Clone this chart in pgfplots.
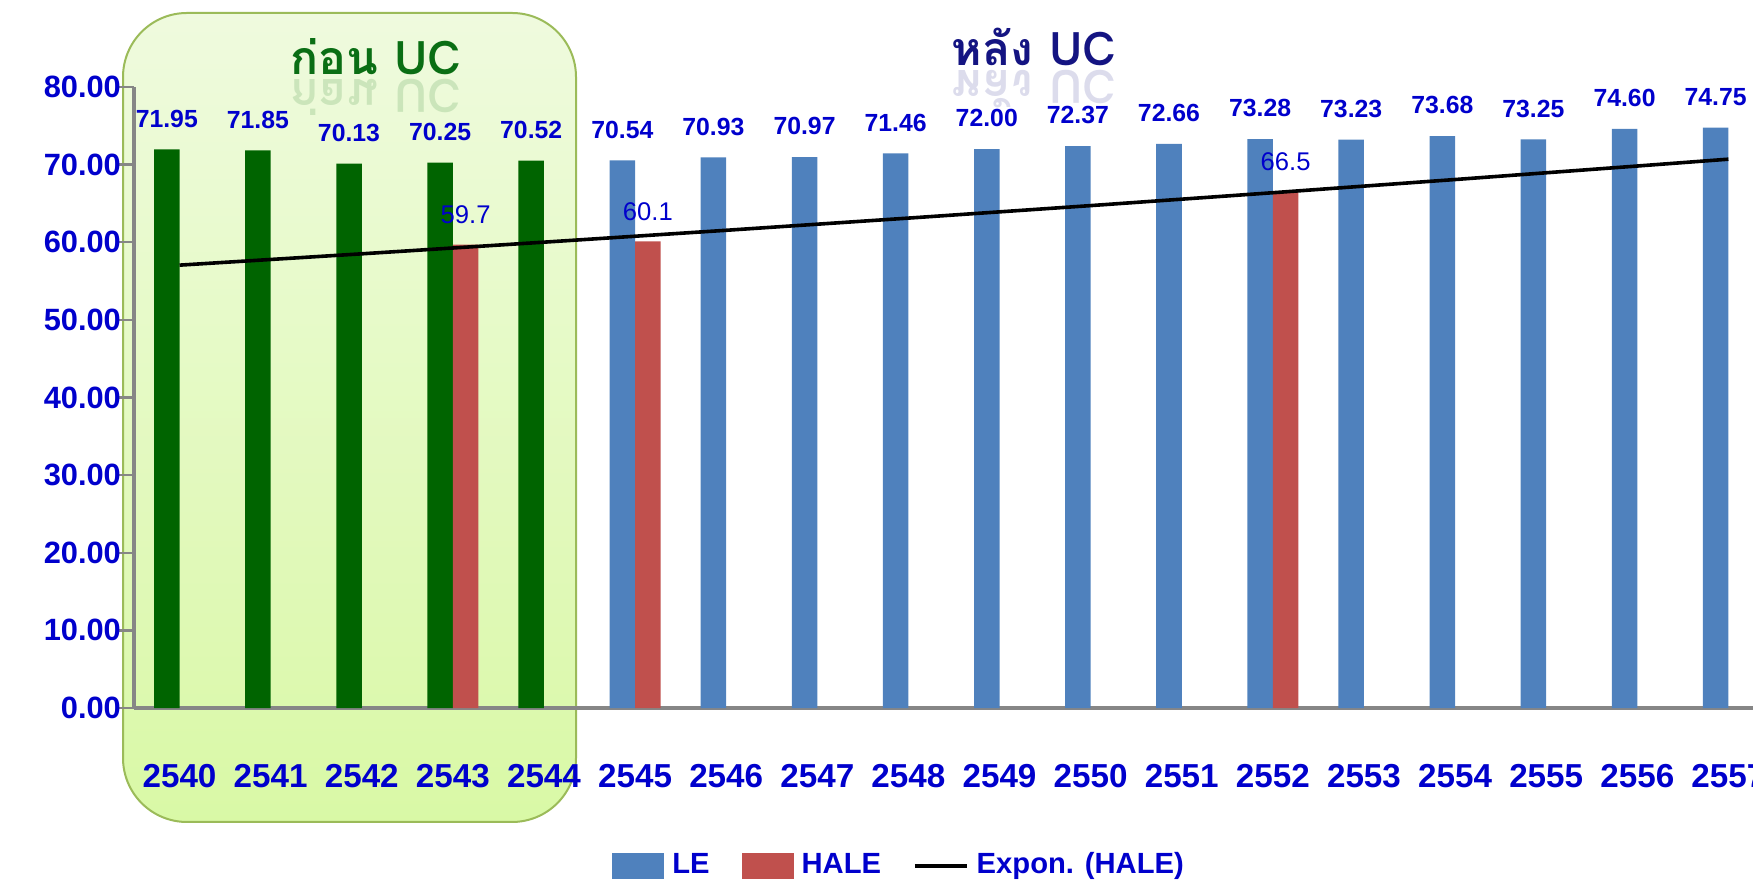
\documentclass[border=0pt]{standalone}
\usepackage{pgfplots}
\pgfplotsset{compat=1.18}
\usepackage{pgfplotstable}
\usepackage{fontspec}
\setmainfont{Liberation Sans}
\newfontfamily\thaifont[Script=Thai]{Loma}

\definecolor{lblue}{RGB}{0,0,204}
\definecolor{lebar}{RGB}{79,129,189}
\definecolor{halebar}{RGB}{192,80,77}
\definecolor{greenbar}{RGB}{0,100,0}
\definecolor{axisgray}{RGB}{134,134,134}
\definecolor{boxtop}{RGB}{239,250,222}
\definecolor{boxbot}{RGB}{217,249,166}
\definecolor{boxline}{RGB}{155,187,89}
\definecolor{titlegreen}{RGB}{10,110,20}
\definecolor{titleblue}{RGB}{20,20,130}

% LE before UC (2540-2544)
\pgfplotstableread{
x y
0 71.95
1 71.85
2 70.13
3 70.25
4 70.52
}\before
% LE after UC (2545-2557)
\pgfplotstableread{
x y
5 70.54
6 70.93
7 70.97
8 71.46
9 72.00
10 72.37
11 72.66
12 73.28
13 73.23
14 73.68
15 73.25
16 74.60
17 74.75
}\after
\pgfplotstableread{
x y
3 59.7
5 60.1
12 66.5
}\hale
% exponential trend line of HALE
\pgfplotstableread{
x y
0 57.05
2 58.51
4 60.01
6 61.54
8 63.11
10 64.72
12 66.38
14 68.08
16 69.82
17 70.70
}\trend

\begin{document}
\begin{tikzpicture}
% shaded "before UC" panel
\path[draw=boxline, line width=0.5pt, top color=boxtop, bottom color=boxbot,
  rounded corners=16pt] (-2.75pt,-28.5pt) rectangle (110.5pt,173.75pt);
\node[anchor=base, inner sep=0pt, text=titlegreen,
  font=\thaifont\bfseries\fontsize{11.6}{14}\selectfont] at (60.5pt,158.25pt) {ก่อน UC};
\node[anchor=base, inner sep=0pt, text=titlegreen, text opacity=0.15,
  font=\thaifont\bfseries\fontsize{11.6}{14}\selectfont] at (60.5pt,157pt) {\scalebox{1}[-1]{ก่อน UC}};
\node[anchor=base, inner sep=0pt, text=titleblue,
  font=\thaifont\bfseries\fontsize{11.6}{14}\selectfont] at (225pt,160.5pt) {หลัง UC};
\node[anchor=base, inner sep=0pt, text=titleblue, text opacity=0.15,
  font=\thaifont\bfseries\fontsize{11.6}{14}\selectfont] at (225pt,159.25pt) {\scalebox{1}[-1]{หลัง UC}};

\begin{axis}[
  scale only axis,
  width=404.75pt, height=155.25pt,
  at={(0,0)}, anchor=south west,
  xmin=-0.5, xmax=17.27,
  ymin=0, ymax=80,
  axis x line*=bottom,
  axis y line*=left,
  x axis line style={axisgray, line width=1pt},
  y axis line style={axisgray, line width=0.8pt},
  clip=false,
  xtick={0,...,17},
  xticklabels={2540,2541,2542,2543,2544,2545,2546,2547,2548,2549,2550,2551,2552,2553,2554,2555,2556,2557},
  xtick style={draw=none},
  extra x ticks={-0.5,0.5,1.5,2.5,3.5,4.5,5.5,6.5,7.5,8.5,9.5,10.5,11.5,12.5,13.5,14.5,15.5,16.5},
  extra x tick labels={},
  extra x tick style={tick style={axisgray, line width=0.6pt, draw=axisgray}, major tick length=3.75pt, tick align=outside},
  ytick={0,10,...,80},
  yticklabels={0.00,10.00,20.00,30.00,40.00,50.00,60.00,70.00,80.00},
  ytick style={axisgray, line width=0.6pt},
  tick align=outside,
  major tick length=3.75pt,
  xticklabel style={font=\bfseries\fontsize{8.3}{9}\selectfont, text=lblue, anchor=base, yshift=-16pt},
  yticklabel style={font=\bfseries\fontsize{7.7}{8}\selectfont, text=lblue, xshift=4pt},
  legend style={at={(0.4744,-0.2544)}, anchor=center, draw=none, fill=none,
    font=\bfseries\fontsize{7.3}{9}\selectfont, text=lblue,
    /tikz/every even column/.append style={column sep=6pt}},
  legend columns=3,
  legend cell align=left,
]
\addplot[ybar, bar width=0.28, bar shift=-0.14, fill=greenbar, draw=none, forget plot,
  nodes near coords={\pgfmathprintnumber[fixed,fixed zerofill,precision=2,assume math mode=true]{\pgfplotspointmeta}},
  nodes near coords style={font=\bfseries\fontsize{6.2}{7}\selectfont, text=lblue, inner sep=0pt, yshift=5.3pt, xshift=-3.19pt}]
  table[x=x,y=y]{\before};
\addplot[ybar, bar width=0.28, bar shift=-0.14, fill=lebar, draw=none,
  legend image code/.code={\fill[lebar] (0pt,-3.25pt) rectangle (13pt,3.25pt);},
  nodes near coords={\pgfmathprintnumber[fixed,fixed zerofill,precision=2,assume math mode=true]{\pgfplotspointmeta}},
  nodes near coords style={font=\bfseries\fontsize{6.2}{7}\selectfont, text=lblue, inner sep=0pt, yshift=5.3pt, xshift=-3.19pt}]
  table[x=x,y=y]{\after};
\addlegendentry{LE}
\addplot[ybar, bar width=0.28, bar shift=0.14, fill=halebar, draw=none,
  legend image code/.code={\fill[halebar] (0pt,-3.25pt) rectangle (13pt,3.25pt);},
  nodes near coords={\pgfmathprintnumber[fixed,precision=1,assume math mode=true]{\pgfplotspointmeta}},
  nodes near coords style={font=\fontsize{6.4}{7}\selectfont, text=lblue, inner sep=0pt, yshift=5pt, xshift=3.19pt}]
  table[x=x,y=y]{\hale};
\addlegendentry{HALE}
\addplot[black, line width=0.9pt, mark=none,
  legend image code/.code={\draw[black, line width=0.9pt] (0pt,0pt) -- (13pt,0pt);}]
  table[x=x,y=y]{\trend};
\addlegendentry{Expon. (HALE)}
\end{axis}
\pgfresetboundingbox
\useasboundingbox (-33.5pt,-44.5pt) rectangle (404.75pt,177pt);
\end{tikzpicture}
\end{document}
